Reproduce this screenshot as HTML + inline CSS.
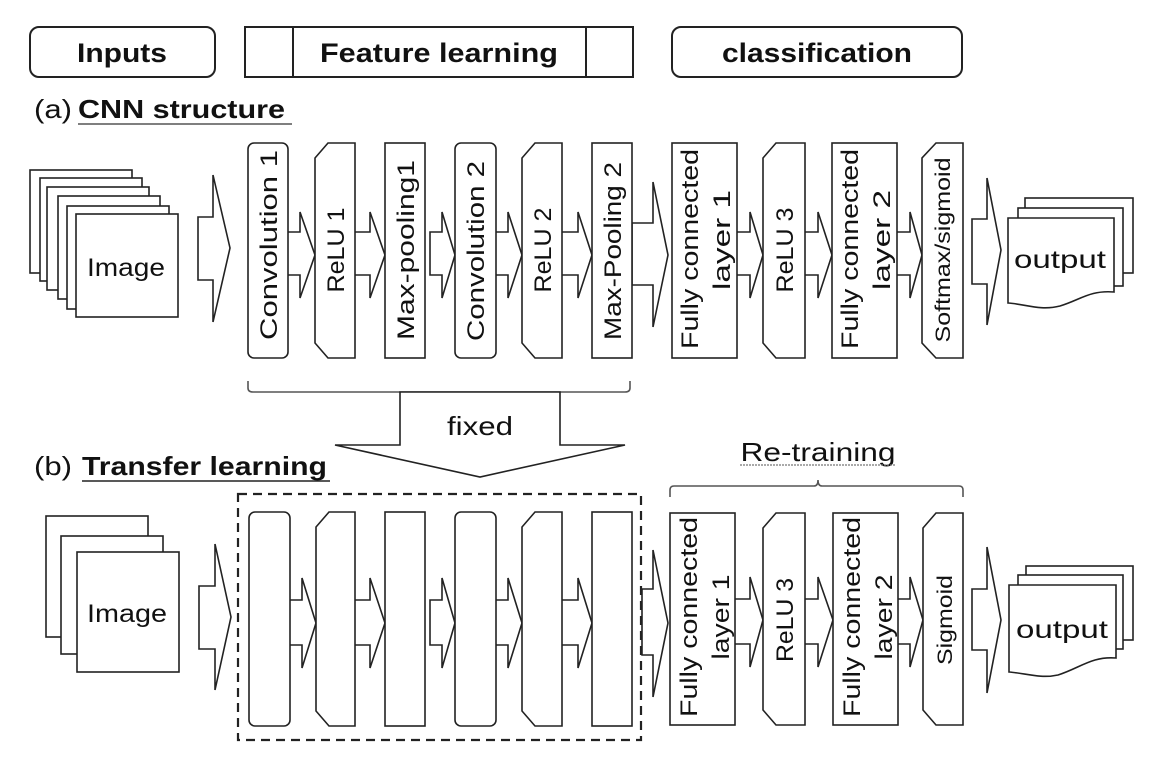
<!DOCTYPE html>
<html><head><meta charset="utf-8"><style>
html,body{margin:0;padding:0;background:#fff;}
svg{display:block;}
text{font-family:"Liberation Sans",sans-serif;fill:#111;}
</style></head><body>
<svg width="1160" height="763" viewBox="0 0 1160 763" xmlns="http://www.w3.org/2000/svg">
<g fill="#fff" stroke="#222" stroke-width="2">
<!-- headers -->
<rect x="30" y="27" width="185" height="50" rx="9"/>
<rect x="245" y="27" width="388" height="50"/>
<line x1="293" y1="27" x2="293" y2="77"/>
<line x1="586" y1="27" x2="586" y2="77"/>
<rect x="672" y="27" width="290" height="50" rx="9"/>
</g>
<g font-weight="bold" font-size="27" text-anchor="middle">
<text x="122" y="62" textLength="90" lengthAdjust="spacingAndGlyphs">Inputs</text>
<text x="439" y="62" textLength="238" lengthAdjust="spacingAndGlyphs">Feature learning</text>
<text x="817" y="62" textLength="190" lengthAdjust="spacingAndGlyphs">classification</text>
</g>
<text x="34" y="118" font-size="26" textLength="38" lengthAdjust="spacingAndGlyphs">(a)</text>
<text x="78" y="118" font-size="26" font-weight="bold" textLength="207" lengthAdjust="spacingAndGlyphs">CNN structure</text>
<line x1="78" y1="124" x2="292" y2="124" stroke="#555" stroke-width="1.5"/>
<text x="34" y="475" font-size="26" textLength="38" lengthAdjust="spacingAndGlyphs">(b)</text>
<text x="82" y="475" font-size="26" font-weight="bold" textLength="245" lengthAdjust="spacingAndGlyphs">Transfer learning</text>
<line x1="82" y1="481" x2="330" y2="481" stroke="#222" stroke-width="1.5"/>

<g fill="#fff" stroke="#222" stroke-width="1.6">
<!-- top image stack -->
<rect x="30" y="170" width="102" height="103"/>
<rect x="40" y="178" width="102" height="103"/>
<rect x="47" y="187" width="102" height="103"/>
<rect x="58" y="196" width="102" height="103"/>
<rect x="67" y="206" width="102" height="103"/>
<rect x="76" y="214" width="102" height="103"/>
<!-- bottom image stack -->
<rect x="46" y="516" width="102" height="121"/>
<rect x="61" y="536" width="102" height="118"/>
<rect x="77" y="552" width="102" height="120"/>

<!-- big arrows -->
<path d="M198 217 H213 V175 L230 248 L213 322 V280 H198 Z"/>
<path d="M199 586 H215 V544 L231 617 L215 690 V649 H199 Z"/>
<path d="M632 223 H653 V182 L668 255 L653 327 V285 H632 Z"/>
<path d="M642 589 H653 V550 L668 623 L653 697 V655 H642 Z"/>
<path d="M972 219 H987 V178 L1001 250 L987 325 V284 H972 Z"/>
<path d="M972 589 H987 V547 L1001 620 L987 693 V650 H972 Z"/>

<!-- top small arrows -->
<path d="M288 232 H300 V212 L315 255 L300 298 V275 H288"/>
<path d="M355 232 H370 V212 L385 255 L370 298 V275 H355"/>
<path d="M430 232 H442 V212 L455 255 L442 298 V275 H430 Z"/>
<path d="M496 232 H508 V212 L522 255 L508 298 V275 H496"/>
<path d="M562 232 H578 V212 L592 255 L578 298 V275 H562"/>
<path d="M737 232 H750 V212 L763 255 L750 298 V275 H737"/>
<path d="M805 232 H818 V212 L832 255 L818 298 V275 H805"/>
<path d="M897 232 H910 V212 L922 255 L910 298 V275 H897"/>
<!-- bottom small arrows -->
<path d="M290 600 H302 V578 L316 623 L302 668 V645 H290"/>
<path d="M355 600 H370 V578 L385 623 L370 668 V645 H355"/>
<path d="M430 600 H442 V578 L455 623 L442 668 V645 H430 Z"/>
<path d="M496 600 H508 V578 L522 623 L508 668 V645 H496"/>
<path d="M562 600 H578 V578 L592 623 L578 668 V645 H562"/>
<path d="M735 599 H750 V577 L763 620 L750 667 V644 H735"/>
<path d="M805 599 H818 V577 L833 620 L818 667 V644 H805"/>
<path d="M898 599 H910 V577 L923 620 L910 667 V644 H898"/>

<!-- top boxes -->
<rect x="248" y="143" width="40" height="215" rx="6"/>
<path d="M328 143 H355 V358 H328 L315 343 V158 Z"/>
<rect x="385" y="143" width="40" height="215"/>
<rect x="455" y="143" width="41" height="215" rx="6"/>
<path d="M535 143 H562 V358 H535 L522 343 V158 Z"/>
<rect x="592" y="143" width="40" height="215"/>
<rect x="672" y="143" width="65" height="215"/>
<path d="M776 143 H805 V358 H776 L763 343 V158 Z"/>
<rect x="832" y="143" width="65" height="215"/>
<path d="M936 143 H963 V358 H936 L922 343 V158 Z"/>
<!-- bottom boxes -->
<rect x="249" y="512" width="41" height="214" rx="6"/>
<path d="M329 512 H355 V726 H329 L316 711 V527 Z"/>
<rect x="385" y="512" width="40" height="214"/>
<rect x="455" y="512" width="41" height="214" rx="6"/>
<path d="M535 512 H562 V726 H535 L522 711 V527 Z"/>
<rect x="592" y="512" width="40" height="214"/>
<rect x="670" y="513" width="65" height="212"/>
<path d="M776 513 H805 V725 H776 L763 710 V528 Z"/>
<rect x="833" y="513" width="65" height="212"/>
<path d="M936 513 H963 V725 H936 L923 710 V528 Z"/>

<!-- output docs top -->
<rect x="1025" y="198" width="108" height="75"/>
<rect x="1018" y="208" width="105" height="78"/>
<path d="M1008 218 H1114 V292 C1090 290 1080 300 1060 306 C1040 311 1025 304 1008 303 Z"/>
<!-- output docs bottom -->
<rect x="1026" y="566" width="107" height="74"/>
<rect x="1018" y="575" width="105" height="74"/>
<path d="M1009 585 H1116 V658 C1092 656 1080 668 1058 675 C1040 679 1025 673 1009 672 Z"/>
</g>

<!-- dashed rect -->
<rect x="238" y="494" width="403" height="246" fill="none" stroke="#222" stroke-width="2.2" stroke-dasharray="9,6"/>

<!-- brace top -->
<path d="M248 381 V388 Q248 392 253 392 H625 Q630 392 630 388 V381" fill="none" stroke="#555" stroke-width="1.6"/>
<!-- fixed arrow -->
<path d="M400 392 H560 V445 H625 L480 477 L335 445 H400 Z" fill="#fff" stroke="#222" stroke-width="1.6"/>
<text x="480" y="435" font-size="26" text-anchor="middle" textLength="66" lengthAdjust="spacingAndGlyphs">fixed</text>

<!-- retraining brace -->
<path d="M670 497 V490 Q670 486 674 486 H814 Q818 486 818 480 Q818 486 822 486 H959 Q963 486 963 490 V497" fill="none" stroke="#555" stroke-width="1.6"/>
<text x="818" y="461" font-size="26" text-anchor="middle" textLength="155" lengthAdjust="spacingAndGlyphs">Re-training</text>
<line x1="740" y1="465" x2="895" y2="465" stroke="#777" stroke-width="1.2" stroke-dasharray="2,1"/>

<!-- image/output labels -->
<g font-size="25" text-anchor="middle">
<text x="126" y="276" textLength="78" lengthAdjust="spacingAndGlyphs">Image</text>
<text x="127" y="622" textLength="80" lengthAdjust="spacingAndGlyphs">Image</text>
<text x="1060" y="268" textLength="92" lengthAdjust="spacingAndGlyphs">output</text>
<text x="1062" y="638" textLength="92" lengthAdjust="spacingAndGlyphs">output</text>
</g>

<!-- vertical labels -->
<g font-size="24" text-anchor="middle">
<text transform="translate(277,245) rotate(-90)" textLength="190" lengthAdjust="spacingAndGlyphs">Convolution 1</text>
<text transform="translate(344,250) rotate(-90)" textLength="85" lengthAdjust="spacingAndGlyphs">ReLU 1</text>
<text transform="translate(414,250) rotate(-90)" textLength="180" lengthAdjust="spacingAndGlyphs">Max-pooling1</text>
<text transform="translate(484,251) rotate(-90)" textLength="180" lengthAdjust="spacingAndGlyphs">Convolution 2</text>
<text transform="translate(551,250) rotate(-90)" textLength="85" lengthAdjust="spacingAndGlyphs">ReLU 2</text>
<text transform="translate(621,251) rotate(-90)" textLength="178" lengthAdjust="spacingAndGlyphs">Max-Pooling 2</text>
<text transform="translate(698,249) rotate(-90)" textLength="200" lengthAdjust="spacingAndGlyphs">Fully connected</text>
<text transform="translate(730,240) rotate(-90)" textLength="100" lengthAdjust="spacingAndGlyphs">layer 1</text>
<text transform="translate(793,250) rotate(-90)" textLength="85" lengthAdjust="spacingAndGlyphs">ReLU 3</text>
<text transform="translate(858,249) rotate(-90)" textLength="200" lengthAdjust="spacingAndGlyphs">Fully connected</text>
<text transform="translate(890,240) rotate(-90)" textLength="100" lengthAdjust="spacingAndGlyphs">layer 2</text>
<text transform="translate(950,250) rotate(-90)" font-size="21" textLength="185" lengthAdjust="spacingAndGlyphs">Softmax/sigmoid</text>

<text transform="translate(697,617) rotate(-90)" textLength="200" lengthAdjust="spacingAndGlyphs">Fully connected</text>
<text transform="translate(729,617) rotate(-90)" textLength="85" lengthAdjust="spacingAndGlyphs">layer 1</text>
<text transform="translate(793,620) rotate(-90)" textLength="84" lengthAdjust="spacingAndGlyphs">ReLU 3</text>
<text transform="translate(860,617) rotate(-90)" textLength="200" lengthAdjust="spacingAndGlyphs">Fully connected</text>
<text transform="translate(892,617) rotate(-90)" textLength="85" lengthAdjust="spacingAndGlyphs">layer 2</text>
<text transform="translate(952,620) rotate(-90)" font-size="21" textLength="90" lengthAdjust="spacingAndGlyphs">Sigmoid</text>
</g>
</svg>
</body></html>
